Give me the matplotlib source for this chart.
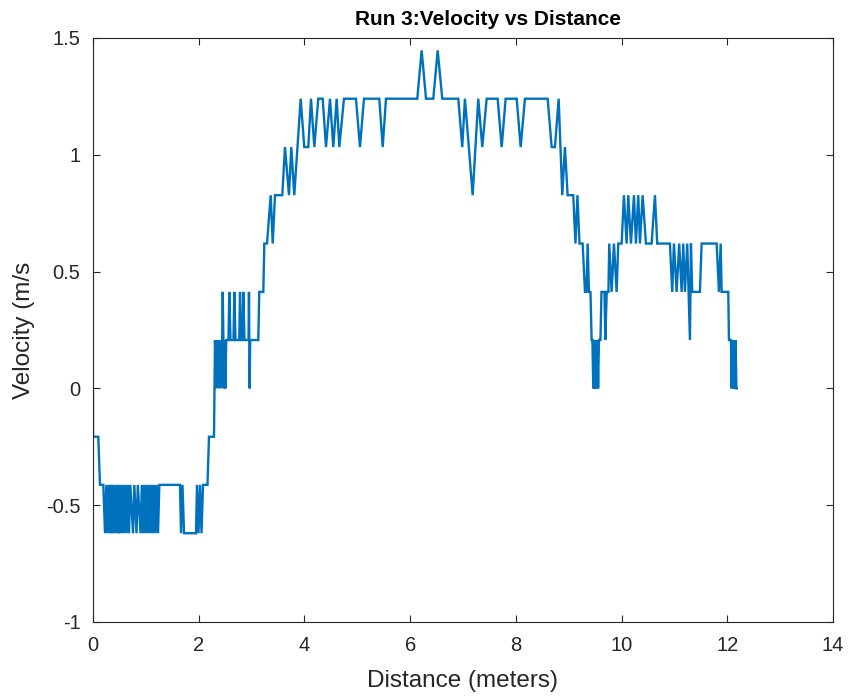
import matplotlib
matplotlib.use("Agg")
import matplotlib.pyplot as plt

# run 3 encoder log: distance travelled (m) and measured velocity (m/s)
distance_m = [
    0.000, 0.000, 0.100, 0.132, 0.195,
    0.227, 0.252, 0.274, 0.299, 0.322, 0.347, 0.359, 0.384, 0.407, 0.432,
    0.454, 0.479, 0.492, 0.517, 0.539, 0.564, 0.586, 0.611, 0.634, 0.659,
    0.681, 0.706, 0.757, 0.782, 0.823, 0.848, 0.899, 0.924, 0.946, 0.971,
    0.993, 1.018, 1.040, 1.065, 1.088, 1.113, 1.135, 1.160, 1.182, 1.207,
    1.230, 1.255,
    1.646, 1.665, 1.693, 1.722, 1.949, 1.967, 1.996, 2.024, 2.053, 2.081,
    2.166, 2.194, 2.289, 2.299,
    2.308, 2.331, 2.354, 2.376, 2.399, 2.421, 2.444, 2.454, 2.467, 2.475,
    2.490, 2.505, 2.520,
    2.563, 2.578, 2.601, 2.658, 2.673, 2.696, 2.766, 2.781, 2.804,
    2.830, 2.843, 2.866, 2.942, 2.951, 2.963, 2.974,
    3.127, 3.146, 3.222, 3.241, 3.292, 3.362, 3.400, 3.443, 3.581, 3.632,
    3.708, 3.751, 3.808, 3.929, 3.997, 4.073, 4.124, 4.187, 4.262, 4.346,
    4.408, 4.484, 4.546, 4.610, 4.660, 4.748, 4.975, 5.051, 5.127, 5.416,
    5.481, 5.543, 6.135, 6.218, 6.300, 6.438, 6.521, 6.608, 6.911, 6.986,
    7.037, 7.183, 7.289, 7.365, 7.448, 7.656, 7.732, 7.807, 8.016, 8.091,
    8.172, 8.602, 8.678, 8.740, 8.810, 8.878, 8.929, 8.980, 9.086, 9.128,
    9.166, 9.204, 9.264, 9.308, 9.336, 9.359, 9.383, 9.412, 9.434, 9.449,
    9.465, 9.482, 9.497, 9.512, 9.527, 9.542, 9.557, 9.572, 9.601, 9.620,
    9.677, 9.692, 9.720, 9.752, 9.767, 9.813, 9.856, 9.907, 9.938, 10.002,
    10.045, 10.096, 10.127, 10.178, 10.235, 10.272, 10.316, 10.348, 10.399, 10.462,
    10.569, 10.632, 10.675, 10.915, 10.959, 10.991, 11.042, 11.091, 11.137, 11.167,
    11.199, 11.243, 11.294, 11.313, 11.337, 11.483, 11.515, 11.799, 11.843, 11.875,
    11.894, 12.019, 12.032, 12.070, 12.083, 12.098, 12.113, 12.128, 12.143, 12.158,
    12.173, 12.183,
]

velocity_ms = [
    0.000, -0.207, -0.207, -0.413, -0.413,
    -0.620, -0.413, -0.620, -0.413, -0.620, -0.413, -0.620, -0.413, -0.620, -0.413,
    -0.620, -0.413, -0.620, -0.413, -0.620, -0.413, -0.620, -0.413, -0.620, -0.413,
    -0.620, -0.413, -0.620, -0.413, -0.620, -0.413, -0.620, -0.413, -0.620, -0.413,
    -0.620, -0.413, -0.620, -0.413, -0.620, -0.413, -0.620, -0.413, -0.620, -0.413,
    -0.620, -0.413,
    -0.413, -0.620, -0.413, -0.620, -0.620, -0.413, -0.620, -0.413, -0.620, -0.413,
    -0.413, -0.207, -0.207, 0.000,
    0.207, 0.000, 0.207, 0.000, 0.207, 0.000, 0.207, 0.413, 0.207, 0.000,
    0.207, 0.000, 0.207,
    0.207, 0.413, 0.207, 0.207, 0.413, 0.207, 0.207, 0.413, 0.207,
    0.207, 0.413, 0.207, 0.207, 0.413, 0.000, 0.207,
    0.207, 0.413, 0.413, 0.620, 0.620, 0.827, 0.620, 0.827, 0.827, 1.033,
    0.827, 1.033, 0.827, 1.240, 1.033, 1.033, 1.240, 1.033, 1.240, 1.240,
    1.033, 1.240, 1.033, 1.240, 1.033, 1.240, 1.240, 1.033, 1.240, 1.240,
    1.033, 1.240, 1.240, 1.447, 1.240, 1.240, 1.447, 1.240, 1.240, 1.033,
    1.240, 0.827, 1.240, 1.033, 1.240, 1.240, 1.033, 1.240, 1.240, 1.033,
    1.240, 1.240, 1.033, 1.033, 1.240, 0.827, 1.033, 0.827, 0.827, 0.620,
    0.827, 0.620, 0.620, 0.413, 0.413, 0.620, 0.413, 0.413, 0.207, 0.207,
    0.000, 0.207, 0.000, 0.207, 0.000, 0.207, 0.000, 0.207, 0.207, 0.413,
    0.413, 0.207, 0.413, 0.413, 0.620, 0.413, 0.620, 0.413, 0.620, 0.620,
    0.827, 0.620, 0.827, 0.620, 0.827, 0.620, 0.827, 0.620, 0.827, 0.620,
    0.620, 0.827, 0.620, 0.620, 0.413, 0.620, 0.413, 0.620, 0.413, 0.620,
    0.413, 0.620, 0.207, 0.620, 0.413, 0.413, 0.620, 0.620, 0.413, 0.620,
    0.413, 0.413, 0.207, 0.207, 0.000, 0.207, 0.000, 0.207, 0.000, 0.207,
    0.000, 0.000,
]

x_ticks = [0, 2, 4, 6, 8, 10, 12, 14]
y_ticks = [-1, -0.5, 0, 0.5, 1, 1.5]
y_tick_labels = ["-1", "-0.5", "0", "0.5", "1", "1.5"]

plt.rcParams["font.family"] = ["Liberation Sans", "DejaVu Sans"]

fig = plt.figure(figsize=(8.51, 6.98), dpi=100)
ax = fig.add_axes([0.1093, 0.1089, 0.8695, 0.8367])

ax.plot(distance_m, velocity_ms, color="#0072BD", linewidth=1.7,
        solid_joinstyle="miter")

ax.set_xlim(0, 14)
ax.set_ylim(-1, 1.5)
ax.set_xticks(x_ticks)
ax.set_yticks(y_ticks)
ax.set_yticklabels(y_tick_labels)

axis_grey = "#262626"
for side in ax.spines.values():
    side.set_color(axis_grey)
    side.set_linewidth(0.8)
ax.tick_params(direction="in", top=True, right=True, length=5, width=0.8,
               colors=axis_grey, labelsize=14.5)
ax.tick_params(axis="x", pad=10)
ax.tick_params(axis="y", pad=9)

ax.set_xlabel("Distance (meters)", fontsize=17.5, color=axis_grey, labelpad=11)
ax.set_ylabel("Velocity (m/s", fontsize=17.5, color=axis_grey, labelpad=8)
ax.set_title("Run 3:Velocity vs Distance", fontsize=15, fontweight="bold",
             color="black", pad=9, x=0.534)

fig.savefig("out.png", dpi=100)
